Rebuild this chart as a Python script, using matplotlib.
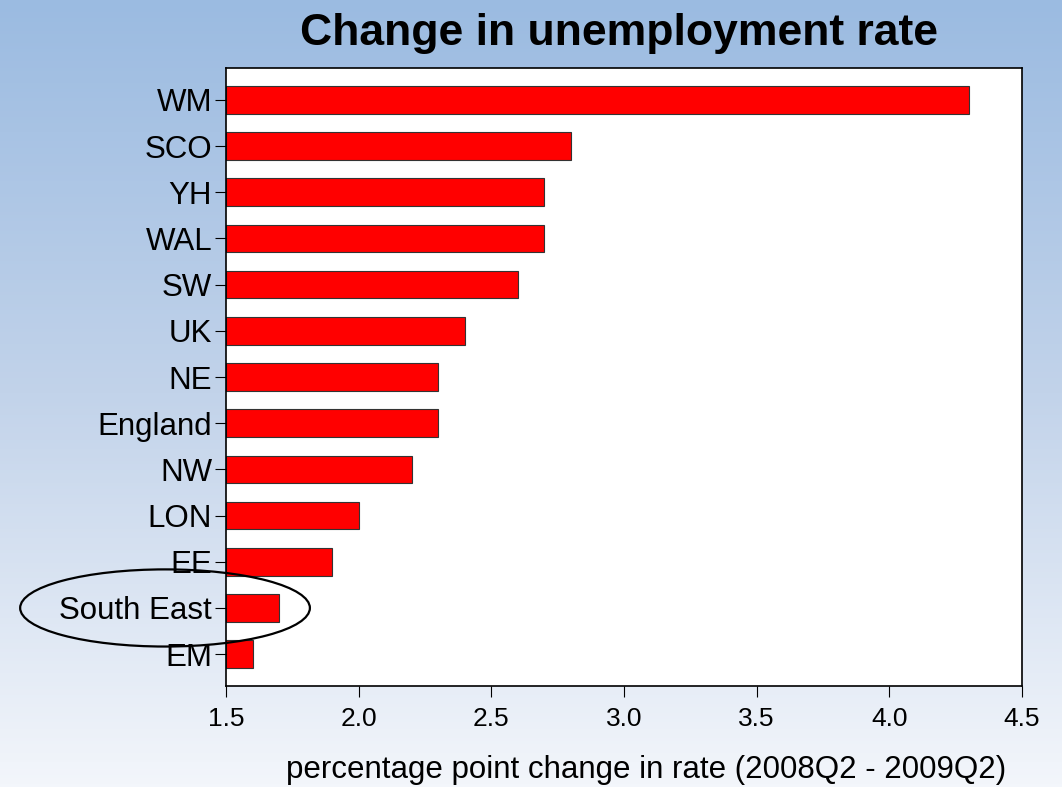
import numpy as np
import matplotlib
matplotlib.use('Agg')
import matplotlib.pyplot as plt
from matplotlib.patches import Ellipse
from matplotlib.colors import LinearSegmentedColormap
import matplotlib.transforms as mtransforms

# regions, top to bottom as in the chart
regions = ['WM', 'SCO', 'YH', 'WAL', 'SW', 'UK', 'NE', 'England', 'NW', 'LON', 'EE', 'South East', 'EM']
change = [4.3, 2.8, 2.7, 2.7, 2.6, 2.4, 2.3, 2.3, 2.2, 2.0, 1.9, 1.7, 1.6]
xticks = [1.5, 2.0, 2.5, 3.0, 3.5, 4.0, 4.5]
base = 1.5

plt.rcParams['font.family'] = ['Liberation Sans', 'DejaVu Sans']

fig = plt.figure(figsize=(10.62, 7.87), dpi=100)

# blue gradient background
bg = fig.add_axes([0, 0, 1, 1], zorder=-10)
grad = np.linspace(0, 1, 256).reshape(-1, 1)
cmap = LinearSegmentedColormap.from_list('bg', ['#9bbbe1', '#c2d3ea', '#f3f6fb'])
bg.imshow(grad, aspect='auto', cmap=cmap, extent=[0, 1, 0, 1], origin='upper')
bg.axis('off')

ax = fig.add_axes([0.2128, 0.1283, 0.7495, 0.7853])
ypos = np.arange(len(regions))
ax.barh(ypos, [v - base for v in change], left=base, height=0.6,
        color='#ff0000', edgecolor='#333333', linewidth=0.8)
ax.set_yticks(ypos)
ax.set_yticklabels(regions, fontsize=22.5)
ax.set_ylim(len(regions) - 1 + 0.69, -0.69)
ax.set_xlim(1.5, 4.5)
ax.set_xticks(xticks)
ax.set_xticklabels(['%.1f' % t for t in xticks], fontsize=19)
ax.tick_params(axis='y', length=8, pad=2)
ax.tick_params(axis='x', length=8, pad=7, direction='out')
for s in ax.spines.values():
    s.set_linewidth(1.2)

fig.text(0.608, 0.022, 'percentage point change in rate (2008Q2 - 2009Q2)',
         ha='center', va='center', fontsize=22.5)
fig.text(0.583, 0.958, 'Change in unemployment rate', ha='center', va='center',
         fontsize=32, fontweight='bold')

# ellipse round the South East label
trans = mtransforms.blended_transform_factory(ax.transAxes, ax.transData)
se = regions.index('South East')
ell = Ellipse((-0.0766, se), 0.364, 1.67, transform=trans, fill=False,
              edgecolor='black', linewidth=1.6, clip_on=False, zorder=5)
ax.add_patch(ell)

fig.savefig('out.png', dpi=100)
